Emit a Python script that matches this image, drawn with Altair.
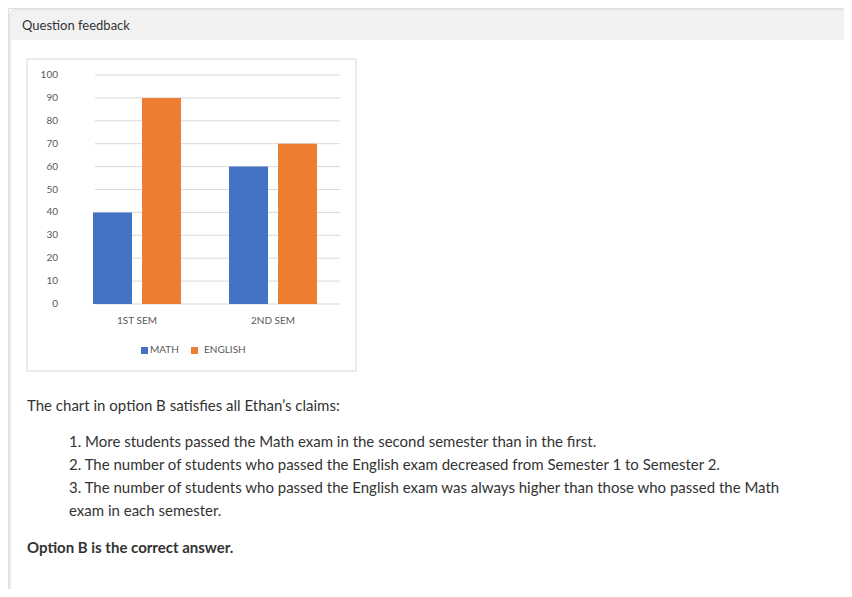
import altair as alt
import pandas as pd

semesters = ["1ST SEM", "1ST SEM", "2ND SEM", "2ND SEM"]
subjects = ["MATH", "ENGLISH", "MATH", "ENGLISH"]
values = [40, 90, 60, 70]
ticks = [0, 10, 20, 30, 40, 50, 60, 70, 80, 90, 100]
sem_labels = ["1ST SEM", "2ND SEM"]

df = pd.DataFrame({"sem": semesters, "subject": subjects, "value": values})
tick_df = pd.DataFrame({"tick": ticks})
lab_df = pd.DataFrame({"sem": sem_labels})

FONT = "Lato"
xs = alt.Scale(domain=sem_labels, range=[61, 333], paddingInner=0.353, paddingOuter=0.1765)
ys = alt.Scale(domain=[0, 100], range=[296, 67])
col = alt.Scale(domain=["MATH", "ENGLISH"], range=["#4472C4", "#ED7D31"])

def rect(x, x2, y, y2, fill, stroke=None, r=0):
    kw = dict(fill=fill, cornerRadius=r)
    if stroke:
        kw["stroke"] = stroke
        kw["strokeWidth"] = 1
    return alt.Chart(pd.DataFrame({"a": [0]})).mark_rect(**kw).encode(
        x=alt.value(x), x2=alt.value(x2), y=alt.value(y), y2=alt.value(y2))

def text(t, x, y, size=15, bold=False, color="#333333", align="left"):
    return alt.Chart(pd.DataFrame({"t": [t]})).mark_text(
        align=align, baseline="middle", font=FONT, fontSize=size,
        fontWeight="bold" if bold else "normal", color=color).encode(
        x=alt.value(x), y=alt.value(y), text="t:N")

layers = [
    rect(-8, 844, -7, -6, "#dddddd"),
    rect(2, 837, 2, 584, "white", "#d6d6d6", 4),
    rect(3, 836, 3, 32, "#f2f2f2"),
    rect(19, 348, 51, 363, "white", "#d9d9d9"),
    text("Question feedback", 14, 18, size=13),
]

grid = alt.Chart(tick_df).mark_rule(color="#d9d9d9", strokeWidth=1).encode(
    y=alt.Y("tick:Q", scale=ys, axis=None), x=alt.value(87), x2=alt.value(332))
ylab = alt.Chart(tick_df).mark_text(align="right", baseline="middle", font=FONT,
    fontSize=10, color="#595959").encode(
    y=alt.Y("tick:Q", scale=ys, axis=None), x=alt.value(50), text="tick:Q")
bars = alt.Chart(df).mark_bar().encode(
    x=alt.X("sem:N", scale=xs, axis=None),
    xOffset=alt.XOffset("subject:N", sort=["MATH", "ENGLISH"],
                        scale=alt.Scale(paddingInner=0.204, paddingOuter=0)),
    y=alt.Y("value:Q", scale=ys, axis=None),
    color=alt.Color("subject:N", scale=col, legend=None))
xlab = alt.Chart(lab_df).mark_text(baseline="middle", font=FONT, fontSize=10,
    color="#595959").encode(x=alt.X("sem:N", scale=xs, axis=None), y=alt.value(313), text="sem:N")

legend = [
    rect(133, 140, 339, 346, "#4472C4"),
    text("MATH", 142, 342, size=10, color="#595959"),
    rect(183, 190, 339, 346, "#ED7D31"),
    text("ENGLISH", 196, 342, size=10, color="#595959"),
]

body = [
    text("The chart in option B satisfies all Ethan\u2019s claims:", 19, 398),
    text("1. More students passed the Math exam in the second semester than in the first.", 61, 434),
    text("2. The number of students who passed the English exam decreased from Semester 1 to Semester 2.", 61, 457),
    text("3. The number of students who passed the English exam was always higher than those who passed the Math", 61, 480),
    text("exam in each semester.", 61, 503),
    text("Option B is the correct answer.", 19, 540, bold=True),
]

chart = alt.layer(*layers, grid, bars, ylab, xlab, *legend, *body).properties(
    width=836, height=581, padding=0, autosize=alt.AutoSizeParams(type="none")
).configure_view(stroke=None).configure(background="white")

chart.save("out.html", embed_options={"renderer": "svg", "actions": False})
